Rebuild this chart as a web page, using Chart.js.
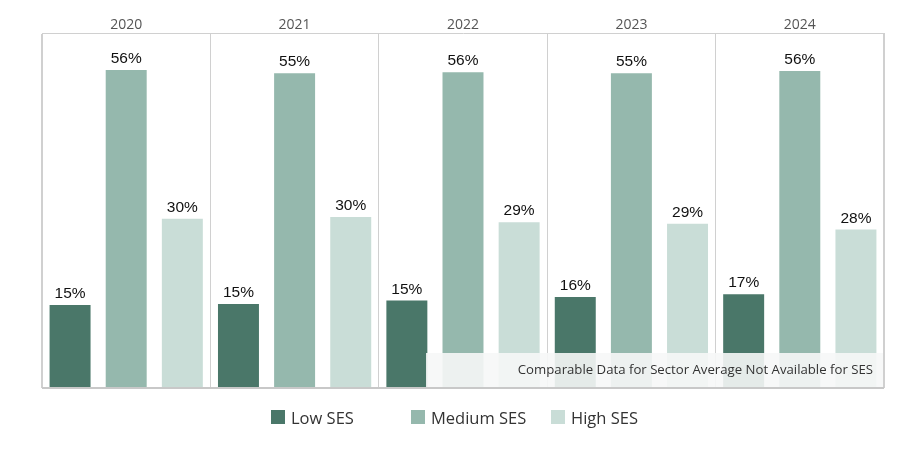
<!DOCTYPE html>
<html>
<head>
<meta charset="utf-8">
<script src="https://cdn.jsdelivr.net/npm/chart.js@4"></script>
<style>
  html, body { margin: 0; padding: 0; background: #fff; }
  canvas { display: block; }
</style>
</head>
<body>
<canvas id="ses-chart" width="908" height="450"></canvas>
<script>
// Data (percent of students)
const years = ["2020", "2021", "2022", "2023", "2024"];
const seriesNames = ["Low SES", "Medium SES", "High SES"];
const lowSes = [14.6, 14.8, 15.4, 16.0, 16.5];
const mediumSes = [56.0, 55.4, 55.6, 55.4, 55.8];
const highSes = [29.8, 30.1, 29.2, 28.9, 27.9];
const seriesColors = ["#4a7769", "#95b8ad", "#c9ddd7"];
const footnote = "Comparable Data for Sector Average Not Available for SES";

// frame around the plot: bottom + sides
const framePlugin = {
  id: "frame",
  beforeDatasetsDraw(chart) {
    const ctx = chart.ctx;
    const a = chart.chartArea;
    ctx.save();
    ctx.strokeStyle = "#d0d0d0";
    ctx.lineWidth = 1;
    ctx.beginPath();
    ctx.moveTo(a.left + 0.5, a.top);
    ctx.lineTo(a.left + 0.5, a.bottom);
    ctx.moveTo(a.right - 0.5, a.top);
    ctx.lineTo(a.right - 0.5, a.bottom);
    ctx.stroke();
    ctx.restore();
  },
  afterDatasetsDraw(chart) {
    const ctx = chart.ctx;
    const a = chart.chartArea;
    ctx.save();
    ctx.strokeStyle = "#c8c8c8";
    ctx.lineWidth = 2;
    ctx.beginPath();
    ctx.moveTo(a.left, a.bottom);
    ctx.lineTo(a.right, a.bottom);
    ctx.stroke();
    ctx.restore();
  }
};

// percent labels above each bar
const valueLabels = {
  id: "valueLabels",
  afterDatasetsDraw(chart) {
    const ctx = chart.ctx;
    ctx.save();
    ctx.font = "15.5px 'Liberation Sans', Arial, sans-serif";
    ctx.fillStyle = "#111";
    ctx.textAlign = "center";
    ctx.textBaseline = "alphabetic";
    chart.data.datasets.forEach((ds, i) => {
      chart.getDatasetMeta(i).data.forEach((bar, j) => {
        ctx.fillText(Math.round(ds.data[j]) + "%", bar.x, bar.y - 7);
      });
    });
    ctx.restore();
  }
};

// translucent note box over the bottom right + custom legend
const notePlugin = {
  id: "note",
  afterDraw(chart) {
    const ctx = chart.ctx;
    const a = chart.chartArea;
    ctx.save();
    ctx.fillStyle = "rgba(246, 247, 247, 0.9)";
    ctx.fillRect(a.right - 458, a.bottom - 35, 457, 34);
    ctx.font = "13.2px 'Open Sans', sans-serif";
    ctx.fillStyle = "#333";
    ctx.textAlign = "right";
    ctx.textBaseline = "middle";
    ctx.fillText(footnote, a.right - 11, a.bottom - 18);

    // legend, fixed-width items centred on the canvas
    const startX = chart.width / 2 - 183;
    ctx.textAlign = "left";
    ctx.font = "16.5px 'Open Sans', sans-serif";
    chart.data.datasets.forEach((ds, i) => {
      const x = startX + i * 140;
      ctx.fillStyle = ds.backgroundColor;
      ctx.fillRect(x, 410, 14, 14);
      ctx.fillStyle = "#333";
      ctx.fillText(ds.label, x + 20, 419);
    });
    ctx.restore();
  }
};

const datasets = [lowSes, mediumSes, highSes].map((values, i) => ({
  label: seriesNames[i],
  data: values,
  backgroundColor: seriesColors[i],
  barPercentage: 0.73,
  categoryPercentage: 1.0
}));

new Chart(document.getElementById("ses-chart").getContext("2d"), {
  type: "bar",
  data: { labels: years, datasets: datasets },
  plugins: [framePlugin, valueLabels, notePlugin],
  options: {
    responsive: false,
    animation: false,
    devicePixelRatio: 1,
    layout: { padding: { left: 42, right: 24, top: 0, bottom: 62 } },
    plugins: {
      legend: { display: false },
      tooltip: { enabled: false }
    },
    scales: {
      x: {
        position: "top",
        grid: { offset: true, color: "#d0d0d0", drawTicks: false },
        border: { display: true, color: "#d0d0d0" },
        ticks: {
          color: "#555",
          padding: 0,
          font: { family: "'Open Sans', sans-serif", size: 14 }
        },
        afterFit(scale) { scale.height = 33; }
      },
      y: {
        display: false,
        min: 0,
        max: 62.5
      }
    }
  }
});
</script>
</body>
</html>
